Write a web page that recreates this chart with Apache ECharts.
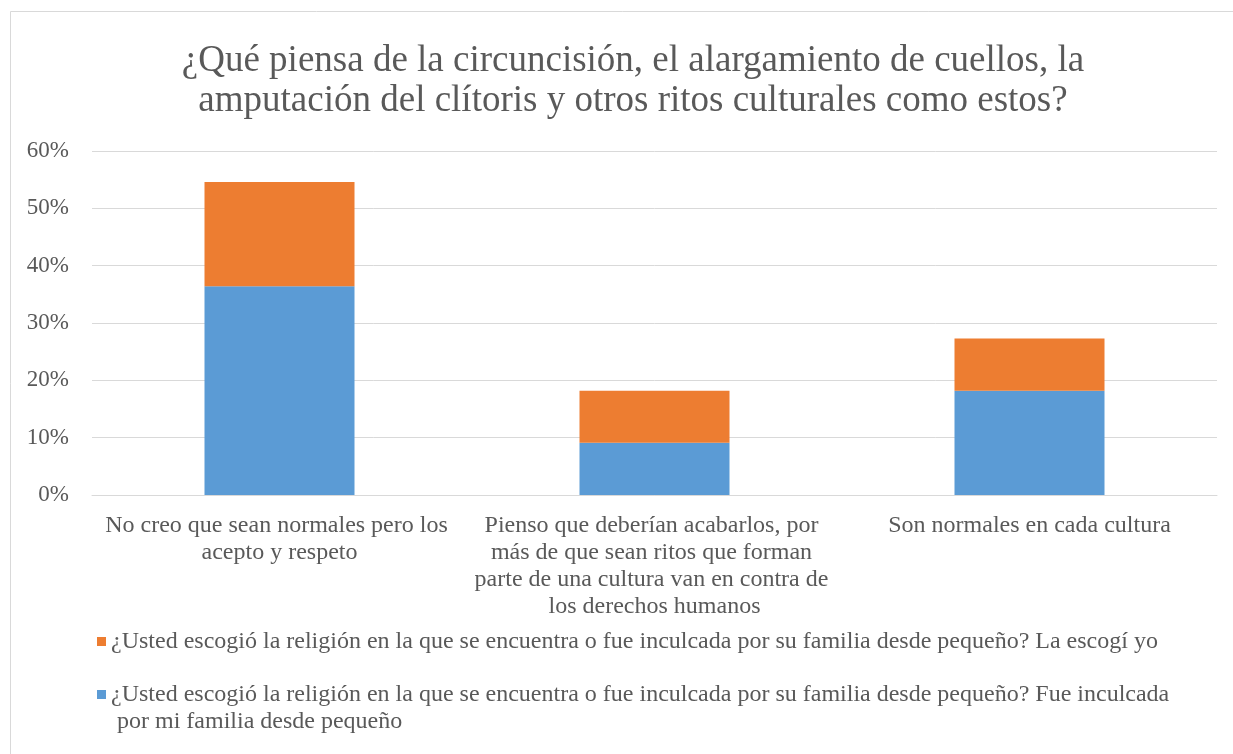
<!DOCTYPE html>
<html>
<head>
<meta charset="utf-8">
<script src="https://cdn.jsdelivr.net/npm/echarts@6/dist/echarts.min.js"></script>
<style>
  html, body { margin: 0; padding: 0; background: #fff; }
  #chart { width: 1233px; height: 754px; }
</style>
</head>
<body>
<div id="chart"></div>
<script>
// categorías del eje x
var categories = [
  'No creo que sean normales pero los acepto y respeto',
  'Pienso que deberían acabarlos, por más de que sean ritos que forman parte de una cultura van en contra de los derechos humanos',
  'Son normales en cada cultura'
];
// nombres de las series
var nameInculcada = '¿Usted escogió la religión en la que se encuentra o fue inculcada por su familia desde pequeño? Fue inculcada por mi familia desde pequeño';
var nameEscogi = '¿Usted escogió la religión en la que se encuentra o fue inculcada por su familia desde pequeño? La escogí yo';
// valores (%)
var inculcadaValues = [36.4, 9.1, 18.2];
var escogiValues = [18.2, 9.1, 9.1];
// etiquetas del eje y
var yTicks = [0, 10, 20, 30, 40, 50, 60];

var font = 'Liberation Serif';
var grey = '#595959';

var myChart = echarts.init(document.getElementById('chart'));
var option = {
  backgroundColor: '#fff',
  animation: false,
  // marco del gráfico
  graphic: [{
    type: 'rect',
    shape: { x: 10.5, y: 11.5, width: 1240, height: 760 },
    style: { fill: 'none', stroke: '#d9d9d9', lineWidth: 1 },
    silent: true
  }],
  title: {
    text: '¿Qué piensa de la circuncisión, el alargamiento de cuellos, la\namputación del clítoris y otros ritos culturales como estos?',
    left: 628,
    textAlign: 'center',
    top: 36,
    textStyle: {
      fontFamily: font,
      fontSize: 37,
      fontWeight: 'normal',
      color: grey,
      lineHeight: 40
    }
  },
  legend: [{
    orient: 'vertical',
    left: 97,
    top: 628,
    padding: 0,
    icon: 'rect',
    itemWidth: 9,
    itemHeight: 9,
    data: [nameEscogi],
    textStyle: { fontFamily: font, fontSize: 24, color: grey, lineHeight: 27 }
  }, {
    // icono alto para alinear el cuadrado con la primera línea
    orient: 'vertical',
    left: 97,
    top: 681,
    padding: 0,
    icon: 'path://M0,0h9v9h-9zM0,35.99h0.01v0.01h-0.01z',
    itemWidth: 9,
    itemHeight: 36,
    data: [nameInculcada],
    textStyle: { fontFamily: font, fontSize: 24, color: grey, width: 1112, overflow: 'break', lineHeight: 27 }
  }],
  grid: {
    left: 92,
    right: 16,
    top: 151,
    bottom: 259
  },
  xAxis: {
    type: 'category',
    data: categories,
    axisLine: { lineStyle: { color: '#d9d9d9', width: 1 } },
    axisTick: { show: false },
    axisLabel: {
      interval: 0,
      margin: 17,
      fontFamily: font,
      fontSize: 24,
      color: grey,
      width: 360,
      overflow: 'break',
      lineHeight: 27,
      align: 'center'
    }
  },
  yAxis: {
    type: 'value',
    min: yTicks[0],
    max: yTicks[yTicks.length - 1],
    interval: 10,
    axisLine: { show: false },
    axisTick: { show: false },
    axisLabel: {
      margin: 23,
      fontFamily: font,
      fontSize: 23,
      color: grey,
      formatter: '{value}%'
    },
    splitLine: { lineStyle: { color: '#d9d9d9', width: 1 } }
  },
  series: [
    {
      name: nameInculcada,
      type: 'bar',
      stack: 'total',
      barWidth: 150,
      data: inculcadaValues,
      itemStyle: { color: '#5B9BD5' }
    },
    {
      name: nameEscogi,
      type: 'bar',
      stack: 'total',
      barWidth: 150,
      data: escogiValues,
      itemStyle: { color: '#ED7D31' }
    }
  ]
};
myChart.setOption(option);
window.addEventListener('resize', myChart.resize);
</script>
</body>
</html>
